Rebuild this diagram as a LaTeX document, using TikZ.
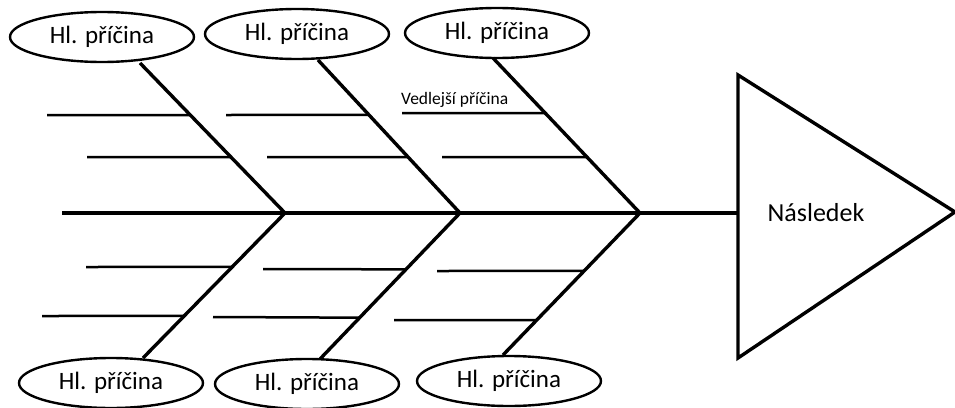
\documentclass[tikz,border=0pt]{standalone}
\usepackage{fontspec}
\setmainfont{Carlito}
\usetikzlibrary{shapes.geometric,calc}
\tikzset{
  cause/.style={draw, ellipse, line width=2.4pt, minimum width=184pt, minimum height=50pt, inner sep=0pt, font=\fontsize{25}{28}\selectfont},
  bone/.style={line width=3.4pt},
  rib/.style={line width=2.5pt}
}
\begin{document}
\begin{tikzpicture}[x=1pt, y=-1pt]
\useasboundingbox (0,0) rectangle (955,407);
\node[cause] (t1) at (102,37) {Hl. příčina};
\node[cause] (t2) at (297,34) {Hl. příčina};
\node[cause] (t3) at (497,33) {Hl. příčina};
\node[cause] (b1) at (111,383) {Hl. příčina};
\node[cause] (b2) at (307,384) {Hl. příčina};
\node[cause] (b3) at (509,381) {Hl. příčina};
\coordinate (tail) at (62,213);
\coordinate (j1) at (285,213);
\coordinate (j2) at (460,213);
\coordinate (j3) at (640,213);
\coordinate (head) at (738,213);
\coordinate (s1) at (140,63);
\coordinate (s2) at (318,60);
\coordinate (s3) at (493,58);
\coordinate (e1) at (143,358);
\coordinate (e2) at (320,359);
\coordinate (e3) at (503,355);
\draw[bone, line join=miter] (head) -- (738,75) -- (955,212) -- (738,358) -- cycle;
\node[font=\fontsize{26}{29}\selectfont] (effect) at (816,213) {Následek};
\draw[bone] (tail) -- (head);
\draw[bone] (s1) -- (j1) -- (e1);
\draw[bone] (s2) -- (j2) -- (e2);
\draw[bone] (s3) -- (j3) -- (e3);
\draw[rib] (47,115) -- ($(s1)!0.347!(j1)$);
\draw[rib] (87,157) -- ($(s1)!0.627!(j1)$);
\draw[rib] (226,115) -- ($(s2)!0.359!(j2)$);
\draw[rib] (267,157) -- ($(s2)!0.634!(j2)$);
\draw[rib] (402,113) -- ($(s3)!0.355!(j3)$);
\draw[rib] (442,157) -- ($(s3)!0.639!(j3)$);
\node[anchor=base west, inner sep=0pt, font=\fontsize{17.5}{20}\selectfont] (sub) at (401,104) {Vedlejší příčina};
\draw[rib] (86,267) -- ($(j1)!0.372!(e1)$);
\draw[rib] (42,316) -- ($(j1)!0.710!(e1)$);
\draw[rib] (263,269) -- ($(j2)!0.386!(e2)$);
\draw[rib] (213,317) -- ($(j2)!0.717!(e2)$);
\draw[rib] (437,271) -- ($(j3)!0.408!(e3)$);
\draw[rib] (394,320) -- ($(j3)!0.754!(e3)$);
\end{tikzpicture}
\end{document}
